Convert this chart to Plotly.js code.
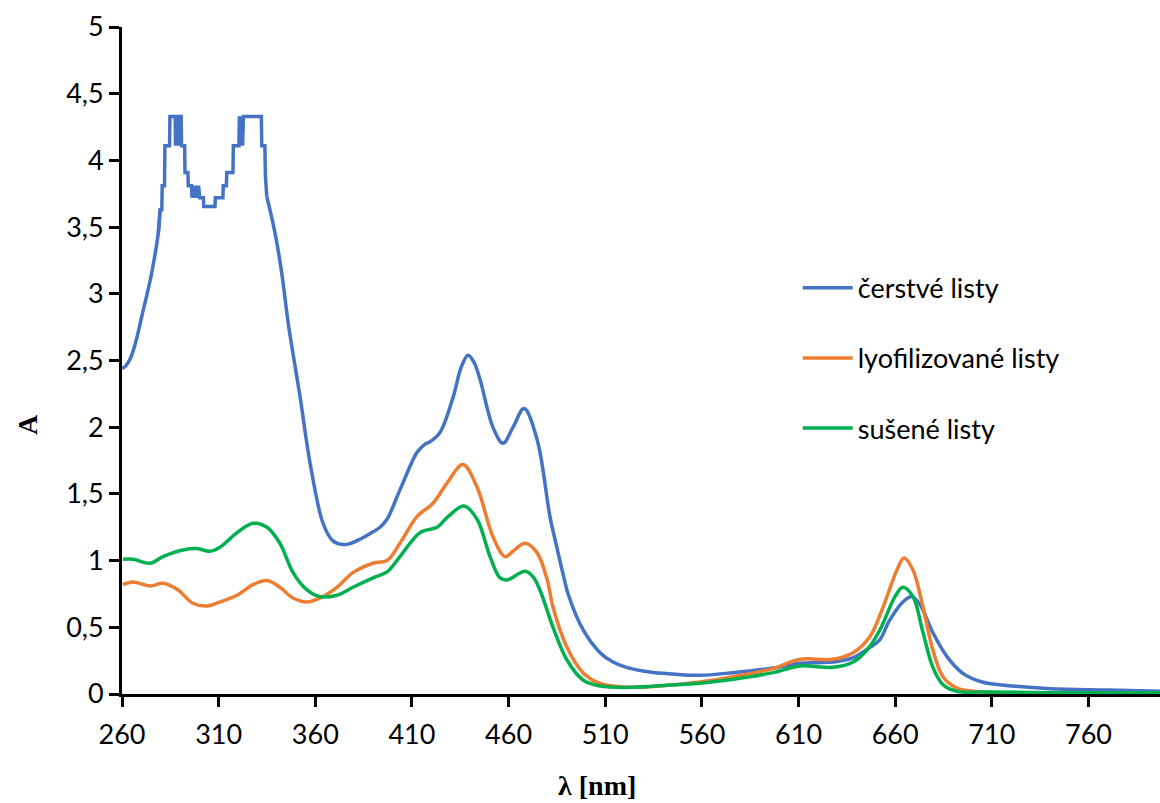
<!DOCTYPE html>
<html>
<head>
<meta charset="utf-8">
<script src="https://cdn.plot.ly/plotly-3.0.1.min.js"></script>
<style>html,body{margin:0;padding:0;background:#fff}#chart{width:1160px;height:803px}</style>
</head>
<body>
<div id="chart"></div>
<script>
// Series names
const seriesNames = ["čerstvé listy", "lyofilizované listy", "sušené listy"];

// čerstvé listy – smooth parts (null = gap where the saturated staircase region is)
const freshX = [260, 262, 264.5, 267.5, 270.2, 273, 275.4, 278.8, 279.7, 300, 334.9, 339.1, 342.6, 346, 349.5, 352.1, 357.3, 364, 369, 374.3, 378.5, 383.1, 388, 393.5, 397.1, 403.8, 412.6, 416.5, 419.3, 424.5, 431.2, 435.5, 439, 442, 445.2, 451.9, 457.1, 462.3, 468, 474.7, 481.4, 484, 488.5, 491, 498.6, 507.3, 514, 521, 533, 545, 559, 576, 597, 611, 620, 628, 638, 647, 652, 657, 664, 668.7, 672.8, 679.5, 686.8, 695, 705, 714, 740, 770, 797];
const freshY = [2.44, 2.46, 2.52, 2.66, 2.83, 3.0, 3.16, 3.46, 3.63, null, 3.73, 3.46, 3.16, 2.78, 2.46, 2.23, 1.73, 1.28, 1.15, 1.12, 1.13, 1.16, 1.2, 1.25, 1.31, 1.53, 1.81, 1.87, 1.89, 1.96, 2.22, 2.45, 2.54, 2.49, 2.36, 2.0, 1.88, 2.0, 2.14, 1.91, 1.33, 1.16, 0.88, 0.74, 0.48, 0.31, 0.24, 0.20, 0.165, 0.15, 0.14, 0.16, 0.195, 0.23, 0.235, 0.24, 0.27, 0.35, 0.405, 0.55, 0.69, 0.73, 0.67, 0.46, 0.28, 0.155, 0.09, 0.07, 0.04, 0.03, 0.02];

// čerstvé listy – saturated (stepped) region
const freshStepX = [278.8, 279.7, 280.6, 280.8, 282.0, 282.2, 284.6, 284.8, 287.5, 287.7, 288.0, 288.6, 288.8, 289.1, 289.6, 289.8, 290.2, 290.6, 290.8, 292.4, 292.6, 294.1, 294.3, 296.0, 296.2, 296.8, 297.4, 298.2, 298.8, 299.6, 300.2, 302.1, 302.3, 308.1, 308.3, 312.2, 312.4, 314.0, 314.2, 317.4, 317.6, 320.5, 320.7, 321.4, 321.9, 322.4, 322.8, 332.1, 332.3, 333.9, 334.2, 334.9];
const freshStepY = [3.46, 3.63, 3.63, 3.81, 3.81, 4.11, 4.11, 4.33, 4.33, 4.11, 4.33, 4.33, 4.11, 4.33, 4.33, 4.11, 4.33, 4.33, 4.11, 4.11, 3.91, 3.91, 3.81, 3.81, 3.72, 3.81, 3.72, 3.81, 3.72, 3.81, 3.72, 3.72, 3.655, 3.655, 3.72, 3.72, 3.81, 3.81, 3.91, 3.91, 4.11, 4.11, 4.33, 4.11, 4.33, 4.11, 4.33, 4.33, 4.11, 4.11, 3.88, 3.73];

// lyofilizované listy
const lyoX = [260.5, 265.7, 274.5, 281.2, 289, 296.7, 304, 310.7, 319.5, 327.8, 335, 341.7, 348.5, 355.7, 362.4, 371.2, 379.5, 389.9, 397.1, 403.8, 412.6, 420.9, 428.1, 436.4, 443.7, 451.9, 458.1, 463, 468.5, 474.7, 479.9, 483, 490.2, 498.5, 507.3, 524.4, 541.9, 559, 576.1, 596.8, 610.8, 627.8, 638.2, 646.9, 653.7, 660.9, 664.6, 669.2, 674.4, 679.5, 684.7, 692, 705.4, 740, 797];
const lyoY = [0.82, 0.84, 0.81, 0.83, 0.78, 0.68, 0.66, 0.69, 0.74, 0.82, 0.85, 0.80, 0.72, 0.69, 0.72, 0.80, 0.91, 0.98, 1.0, 1.13, 1.33, 1.43, 1.58, 1.72, 1.55, 1.18, 1.03, 1.08, 1.13, 1.06, 0.86, 0.65, 0.35, 0.16, 0.08, 0.05, 0.065, 0.09, 0.13, 0.19, 0.26, 0.26, 0.31, 0.43, 0.65, 0.93, 1.02, 0.93, 0.65, 0.33, 0.13, 0.045, 0.015, 0.01, 0.01];

// sušené listy
const driedX = [260.5, 265.7, 274.5, 281.2, 291.6, 298.8, 305.5, 310.7, 319.5, 327.8, 335, 341.7, 348.5, 355.7, 362.4, 371.2, 379.5, 389.9, 397.1, 403.8, 414.2, 423, 428.7, 436.9, 443.7, 450.4, 455.6, 459.2, 468.5, 472.6, 476.2, 483, 490.2, 498.5, 507.3, 524.4, 541.9, 559, 576.1, 596.8, 610.8, 627.8, 638.2, 645.4, 652.1, 659.9, 664, 669.2, 674.4, 679.5, 684.7, 692, 705.4, 740, 797];
const driedY = [1.01, 1.01, 0.98, 1.03, 1.08, 1.09, 1.07, 1.10, 1.21, 1.28, 1.25, 1.13, 0.91, 0.78, 0.73, 0.74, 0.80, 0.87, 0.915, 1.03, 1.21, 1.25, 1.33, 1.41, 1.31, 1.03, 0.87, 0.855, 0.92, 0.88, 0.78, 0.50, 0.255, 0.105, 0.06, 0.05, 0.065, 0.08, 0.11, 0.16, 0.21, 0.20, 0.24, 0.33, 0.48, 0.73, 0.80, 0.73, 0.46, 0.20, 0.07, 0.02, 0.015, 0.01, 0.01];

// Axis ticks and titles
const xTickStart = 260, xTickStep = 50;
const yTickVals = [0, 0.5, 1, 1.5, 2, 2.5, 3, 3.5, 4, 4.5, 5];
const yTickText = ["0", "0,5", "1", "1,5", "2", "2,5", "3", "3,5", "4", "4,5", "5"];
const xTitle = "λ [nm]";
const yTitle = "A";

const colors = ["#4472C4", "#ED7D31", "#00B050"];
const lw = 3.5;

const traces = [
  {x: freshX, y: freshY, name: seriesNames[0], type: "scatter", mode: "lines",
   line: {color: colors[0], width: lw, shape: "spline", smoothing: 1}, legendgroup: "g1", connectgaps: false},
  {x: freshStepX, y: freshStepY, name: seriesNames[0], type: "scatter", mode: "lines",
   line: {color: colors[0], width: lw, shape: "linear"}, legendgroup: "g1", showlegend: false},
  {x: lyoX, y: lyoY, name: seriesNames[1], type: "scatter", mode: "lines",
   line: {color: colors[1], width: lw, shape: "spline", smoothing: 1}, legendgroup: "g2"},
  {x: driedX, y: driedY, name: seriesNames[2], type: "scatter", mode: "lines",
   line: {color: colors[2], width: lw, shape: "spline", smoothing: 1}, legendgroup: "g3"}
];

const tickFont = {family: "Lato, 'Open Sans', sans-serif", size: 27, color: "#000"};

const layout = {
  width: 1160, height: 803,
  margin: {l: 122, r: 0, t: 27, b: 109, pad: 0},
  paper_bgcolor: "#fff", plot_bgcolor: "#fff",
  showlegend: true,
  legend: {x: 0.651, y: 0.645, xanchor: "left", yanchor: "top",
    font: {family: "Lato, 'Open Sans', sans-serif", size: 27, color: "#000"},
    tracegroupgap: 32, bgcolor: "rgba(0,0,0,0)", itemwidth: 50},
  xaxis: {range: [260, 797], tick0: xTickStart, dtick: xTickStep, tickmode: "linear",
    showline: true, linecolor: "#000", linewidth: 3, ticks: "outside", ticklen: 10, tickwidth: 3,
    tickcolor: "#000", showgrid: false, zeroline: false, tickfont: tickFont, ticklabelstandoff: 5},
  yaxis: {range: [0, 5], tickmode: "array", tickvals: yTickVals, ticktext: yTickText,
    showline: true, linecolor: "#000", linewidth: 3, ticks: "outside", ticklen: 10, tickwidth: 3,
    tickcolor: "#000", showgrid: false, zeroline: false, tickfont: tickFont},
  annotations: [
    {text: "<b>" + xTitle + "</b>", xref: "paper", yref: "paper", x: (597 - 122) / 1038, y: -(785 - 694) / 667,
     xanchor: "center", yanchor: "middle", showarrow: false,
     font: {family: "'Liberation Serif', 'DejaVu Serif', serif", size: 28, color: "#000"}},
    {text: "<b>" + yTitle + "</b>", xref: "paper", yref: "paper", x: -(122 - 28) / 1038, y: (694 - 425) / 667,
     xanchor: "center", yanchor: "middle", showarrow: false, textangle: -90,
     font: {family: "'Liberation Serif', 'DejaVu Serif', serif", size: 28, color: "#000"}}
  ]
};

Plotly.newPlot("chart", traces, layout, {staticPlot: true, displayModeBar: false});
</script>
</body>
</html>
